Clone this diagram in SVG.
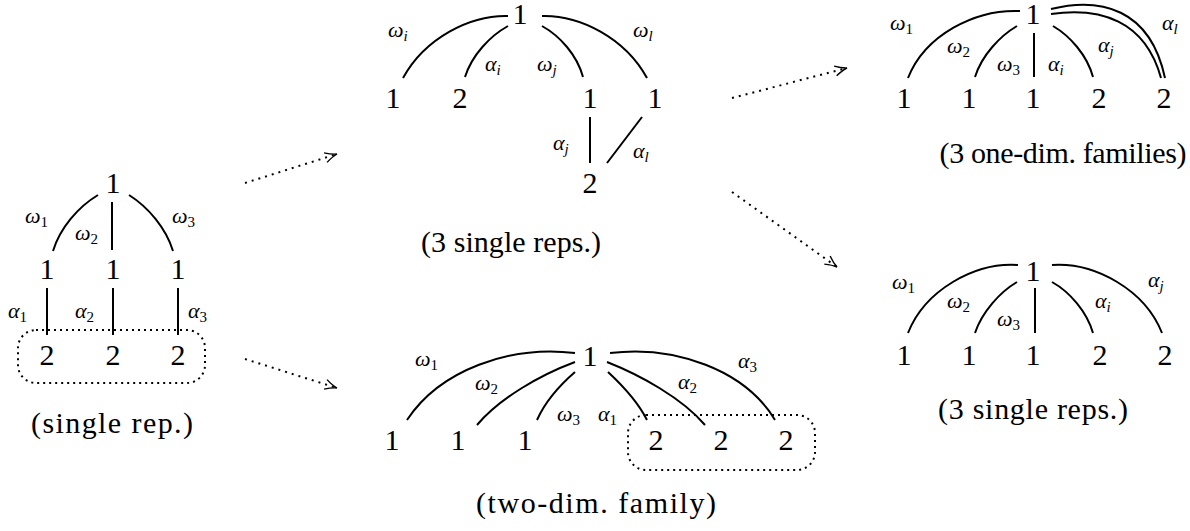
<svg xmlns="http://www.w3.org/2000/svg" width="1190" height="531" viewBox="0 0 1190 531" font-family="'Liberation Serif','Times New Roman','DejaVu Serif',serif">
<style>
.d{font-family:'Liberation Serif','Times New Roman','DejaVu Serif',serif;font-size:30px;text-anchor:middle;fill:#000}
.cap{font-family:'Liberation Serif','Times New Roman','DejaVu Serif',serif;font-size:30px;text-anchor:middle;fill:#000}
.g{font-family:'Liberation Serif','Times New Roman','DejaVu Serif',serif;font-size:22px;font-style:italic;fill:#000}
.s{font-size:15px;font-style:normal}
.si{font-size:15px;font-style:italic}
.e{fill:none;stroke:#000;stroke-width:2}
.box{fill:none;stroke:#000;stroke-width:2;stroke-dasharray:2 4}
.arr{fill:none;stroke:#000;stroke-width:2;stroke-dasharray:2 5;marker-end:url(#ah)}
</style>
<defs>
<marker id="ah" markerUnits="userSpaceOnUse" markerWidth="16" markerHeight="16" refX="0" refY="0" viewBox="-14 -8 16 16" orient="auto">
<path d="M-12,-5 Q-5,-1 0,0 Q-5,1 -12,5" fill="none" stroke="#000" stroke-width="1.4"/>
</marker>
</defs>

<g id="connectors">
<path class="arr" d="M245,183 L337,154"/>
<path class="arr" d="M245,359 L337,388"/>
<path class="arr" d="M732,98 L847,68"/>
<path class="arr" d="M732,192 L837,267"/>
</g>

<g id="single-rep">
<path class="e" d="M98,195 C78,207 60,228 53,251"/>
<path class="e" d="M112,202 V250"/>
<path class="e" d="M129,195 C148,207 166,228 173,251"/>
<path class="e" d="M47,288 V335"/>
<path class="e" d="M113,288 V335"/>
<path class="e" stroke-width="2.6" d="M178,288 V335"/>
<rect class="box" x="18" y="330" width="187" height="53" rx="18"/>
<text class="d" x="113" y="193">1</text>
<text class="d" x="47" y="279">1</text>
<text class="d" x="113" y="279">1</text>
<text class="d" x="178" y="279">1</text>
<text class="d" x="47" y="365">2</text>
<text class="d" x="113" y="365">2</text>
<text class="d" x="178" y="365">2</text>
<text class="g" x="25" y="223">ω<tspan class="s" dy="4">1</tspan></text>
<text class="g" x="75" y="240">ω<tspan class="s" dy="4">2</tspan></text>
<text class="g" x="172" y="223">ω<tspan class="s" dy="4">3</tspan></text>
<text class="g" x="8" y="318">α<tspan class="s" dy="4">1</tspan></text>
<text class="g" x="75" y="318">α<tspan class="s" dy="4">2</tspan></text>
<text class="g" x="188" y="318">α<tspan class="s" dy="4">3</tspan></text>
<text class="cap" x="112" y="433" textLength="162" lengthAdjust="spacing">(single rep.)</text>
</g>

<g id="three-single-reps-top">
<path class="e" d="M508,16 C470,15 425,38 403,78"/>
<path class="e" d="M508,26 C490,36 472,55 465,77"/>
<path class="e" d="M542,26 C560,36 577,55 583,77"/>
<path class="e" d="M542,16 C580,15 625,38 647,78"/>
<path class="e" stroke-width="2.6" d="M590,117 V163"/>
<path class="e" stroke-width="1.5" d="M642,117 L607,163"/>
<text class="d" x="520" y="24">1</text>
<text class="d" x="393" y="108">1</text>
<text class="d" x="460" y="108">2</text>
<text class="d" x="590" y="108">1</text>
<text class="d" x="655" y="108">1</text>
<text class="d" x="590" y="193">2</text>
<text class="g" x="388" y="37">ω<tspan class="si" dy="4">i</tspan></text>
<text class="g" x="485" y="71">α<tspan class="si" dy="4">i</tspan></text>
<text class="g" x="537" y="71">ω<tspan class="si" dy="4">j</tspan></text>
<text class="g" x="633" y="37">ω<tspan class="si" dy="4">l</tspan></text>
<text class="g" x="553" y="150">α<tspan class="si" dy="4">j</tspan></text>
<text class="g" x="633" y="158">α<tspan class="si" dy="4">l</tspan></text>
<text class="cap" x="511" y="252" textLength="180" lengthAdjust="spacing">(3 single reps.)</text>
</g>

<g id="two-dim-family">
<path class="e" d="M575,353 C510,345 440,370 407,420"/>
<path class="e" d="M575,362 C540,375 500,398 477,425"/>
<path class="e" d="M575,372 C560,385 545,402 537,420"/>
<path class="e" d="M608,372 C622,385 638,402 647,420"/>
<path class="e" d="M607,362 C640,375 682,398 705,425"/>
<path class="e" d="M610,353 C675,345 745,370 775,420"/>
<rect class="box" x="628" y="415" width="187" height="55" rx="18"/>
<text class="d" x="590" y="366">1</text>
<text class="d" x="392" y="450">1</text>
<text class="d" x="458" y="450">1</text>
<text class="d" x="525" y="450">1</text>
<text class="d" x="656" y="450">2</text>
<text class="d" x="721" y="450">2</text>
<text class="d" x="786" y="450">2</text>
<text class="g" x="415" y="366">ω<tspan class="s" dy="4">1</tspan></text>
<text class="g" x="475" y="390">ω<tspan class="s" dy="4">2</tspan></text>
<text class="g" x="557" y="421">ω<tspan class="s" dy="4">3</tspan></text>
<text class="g" x="598" y="421">α<tspan class="s" dy="4">1</tspan></text>
<text class="g" x="678" y="389">α<tspan class="s" dy="4">2</tspan></text>
<text class="g" x="738" y="368">α<tspan class="s" dy="4">3</tspan></text>
<text class="cap" x="596" y="513" textLength="240" lengthAdjust="spacing">(two-dim. family)</text>
</g>

<g id="one-dim-families">
<path class="e" d="M1020,11 C975,9 925,35 908,78"/>
<path class="e" d="M1017,26 C1000,36 982,55 975,77"/>
<path class="e" stroke-width="1.6" d="M1034,33 V77"/>
<path class="e" d="M1053,26 C1070,36 1087,55 1093,77"/>
<path class="e" d="M1051,9 C1100,-3 1150,8 1165,78"/>
<path class="e" d="M1051,14 C1100,7 1145,20 1161,78"/>
<text class="d" x="1033" y="24">1</text>
<text class="d" x="904" y="108">1</text>
<text class="d" x="969" y="108">1</text>
<text class="d" x="1033" y="108">1</text>
<text class="d" x="1099" y="108">2</text>
<text class="d" x="1164" y="108">2</text>
<text class="g" x="890" y="30">ω<tspan class="s" dy="4">1</tspan></text>
<text class="g" x="947" y="53">ω<tspan class="s" dy="4">2</tspan></text>
<text class="g" x="997" y="71">ω<tspan class="s" dy="4">3</tspan></text>
<text class="g" x="1048" y="71">α<tspan class="si" dy="4">i</tspan></text>
<text class="g" x="1098" y="52">α<tspan class="si" dy="4">j</tspan></text>
<text class="g" x="1162" y="30">α<tspan class="si" dy="4">l</tspan></text>
<text class="cap" x="1063" y="163" textLength="247" lengthAdjust="spacing">(3 one-dim. families)</text>
</g>

<g id="three-single-reps-bottom">
<path class="e" d="M1018,265 C975,262 925,290 908,333"/>
<path class="e" d="M1017,282 C1000,292 982,312 975,333"/>
<path class="e" stroke-width="1.6" d="M1035,288 V333"/>
<path class="e" d="M1052,282 C1070,292 1087,312 1093,333"/>
<path class="e" d="M1052,265 C1095,262 1145,290 1162,333"/>
<text class="d" x="1033" y="281">1</text>
<text class="d" x="904" y="365">1</text>
<text class="d" x="969" y="365">1</text>
<text class="d" x="1033" y="365">1</text>
<text class="d" x="1100" y="365">2</text>
<text class="d" x="1165" y="365">2</text>
<text class="g" x="892" y="289">ω<tspan class="s" dy="4">1</tspan></text>
<text class="g" x="947" y="308">ω<tspan class="s" dy="4">2</tspan></text>
<text class="g" x="997" y="326">ω<tspan class="s" dy="4">3</tspan></text>
<text class="g" x="1095" y="308">α<tspan class="si" dy="4">i</tspan></text>
<text class="g" x="1148" y="287">α<tspan class="si" dy="4">j</tspan></text>
<text class="cap" x="1033" y="419" textLength="190" lengthAdjust="spacing">(3 single reps.)</text>
</g>
</svg>
